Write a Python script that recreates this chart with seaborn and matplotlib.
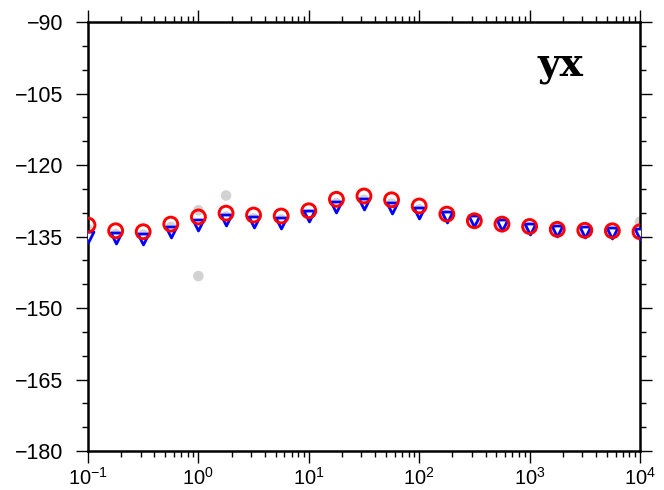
import matplotlib
matplotlib.use("Agg")
import matplotlib.pyplot as plt
import seaborn as sns
import numpy as np
import pandas as pd
from matplotlib.ticker import LogLocator, MultipleLocator, NullFormatter
from matplotlib.font_manager import FontProperties

# ---- data ----
periods = [0.1, 0.178, 0.316, 0.562, 1, 1.78, 3.16, 5.62, 10, 17.8, 31.6, 56.2,
           100, 178, 316, 562, 1000, 1780, 3160, 5620, 10000]
red_phase = [-132.6, -133.8, -134.0, -132.4, -130.9, -130.1, -130.5, -130.7,
             -129.6, -127.2, -126.5, -127.3, -128.6, -130.3, -131.7, -132.4,
             -132.9, -133.5, -133.7, -133.8, -134.0]
blue_phase = [-135.0, -135.4, -135.5, -134.0, -132.6, -131.6, -132.0, -132.2,
              -130.8, -128.9, -128.2, -129.0, -130.1, -130.9, -131.8, -132.6,
              -133.4, -133.8, -134.1, -134.3, -134.5]
grey_periods = [0.1, 0.178, 0.316, 0.562, 1, 1, 1.78, 1.78, 3.16, 5.62, 10, 17.8,
                31.6, 56.2, 100, 178, 316, 562, 1000, 1780, 3160, 5620, 10000]
grey_phase = [-133.5, -134.5, -134.6, -133.0, -129.5, -143.3, -126.4, -130.8,
              -131.2, -131.4, -130.4, -128.0, -127.3, -128.1, -129.3, -130.6,
              -131.6, -132.4, -133.1, -133.6, -133.9, -134.0, -131.9]
panel_label = "yx"
y_ticks = [-180, -165, -150, -135, -120, -105, -90]

sns.set_style("ticks")
plt.rcParams["font.family"] = ["Liberation Sans", "DejaVu Sans"]
plt.rcParams["mathtext.fontset"] = "custom"
plt.rcParams["mathtext.rm"] = "Liberation Sans"
plt.rcParams["mathtext.it"] = "Liberation Sans:italic"
plt.rcParams["mathtext.bf"] = "Liberation Sans:bold"
plt.rcParams["text.color"] = "black"
plt.rcParams["xtick.color"] = "black"
plt.rcParams["ytick.color"] = "black"

fig = plt.figure(figsize=(6.64, 4.9), dpi=100)
ax = fig.add_axes([88 / 664, 1 - 451 / 490, (640 - 88) / 664, (451 - 22) / 490])

df_grey = pd.DataFrame({"period": grey_periods, "phase": grey_phase})
df_main = pd.DataFrame({"period": periods, "red": red_phase, "blue": blue_phase})

sns.scatterplot(data=df_grey, x="period", y="phase", ax=ax, marker="o", s=58,
                facecolor="#d2d2d2", edgecolor="none", linewidth=0, zorder=2)
sns.scatterplot(data=df_main, x="period", y="blue", ax=ax, marker="v", s=62,
                facecolor="white", edgecolor="#0000ff", linewidth=2.0, zorder=3)
sns.scatterplot(data=df_main, x="period", y="red", ax=ax, marker="o", s=100,
                facecolor="none", edgecolor="#ff0000", linewidth=2.1, zorder=4)

ax.set_xscale("log")
ax.set_xlim(0.1, 10000)
ax.set_ylim(-180, -90)
ax.set_yticks(y_ticks)
ax.yaxis.set_minor_locator(MultipleLocator(5))
ax.xaxis.set_major_locator(LogLocator(base=10, numticks=10))
ax.xaxis.set_minor_locator(LogLocator(base=10, subs=np.arange(2, 10), numticks=20))
ax.xaxis.set_minor_formatter(NullFormatter())
ax.set_xlabel("")
ax.set_ylabel("")

for sp in ax.spines.values():
    sp.set_visible(True)
    sp.set_linewidth(1.8)
    sp.set_color("black")

ax.tick_params(which="both", direction="out", top=True, right=True,
               labeltop=False, labelright=False, color="black", width=1.0,
               labelcolor="black")
ax.tick_params(which="major", length=8.6, labelsize=15.5)
ax.tick_params(axis="y", which="major", pad=9)
ax.tick_params(axis="x", which="major", pad=3, labelsize=14.5)
ax.tick_params(which="minor", length=4.3)

fp = FontProperties(family="DejaVu Serif", weight="bold", size=28)
ax.text(0.855, 0.876, panel_label, transform=ax.transAxes, ha="center",
        va="baseline", fontproperties=fp, color="black")

fig.savefig("out.png", dpi=100)
